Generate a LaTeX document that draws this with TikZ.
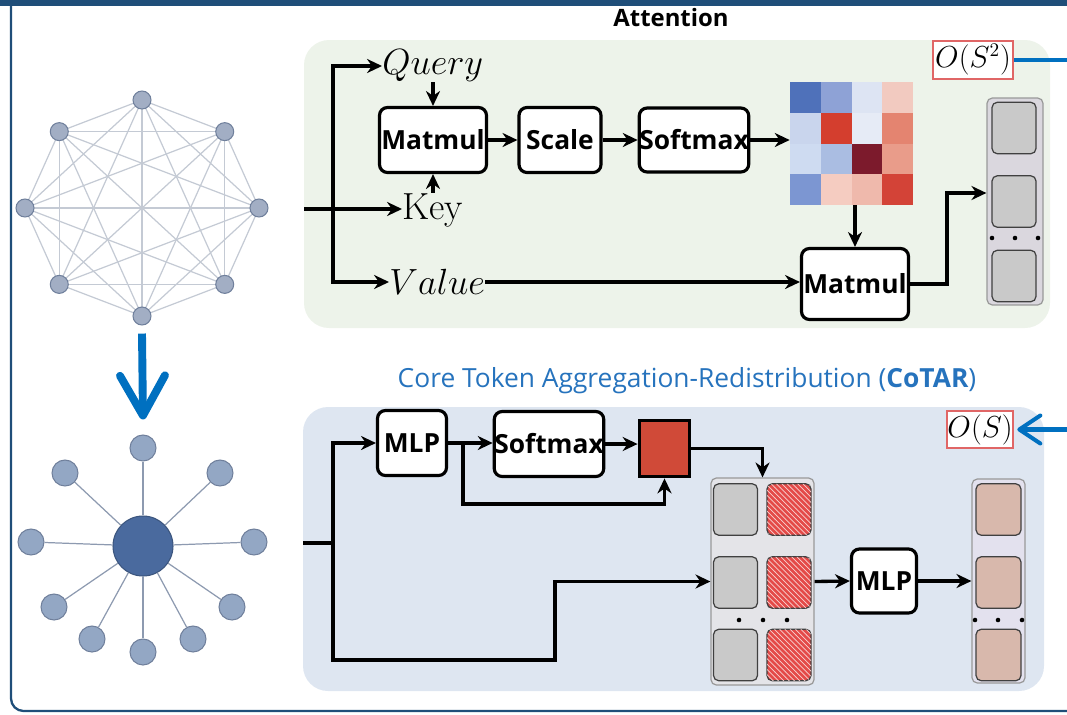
\documentclass[tikz,border=0pt]{standalone}
\usepackage{fontspec}
\newfontfamily\opfont{Open Sans}
\usetikzlibrary{arrows.meta,patterns,backgrounds}

\definecolor{framecol}{RGB}{31,78,121}
\definecolor{attbg}{RGB}{237,243,234}
\definecolor{cotarbg}{RGB}{222,230,241}
\definecolor{arrowblue}{RGB}{0,112,192}
\definecolor{titleblue}{RGB}{38,115,189}
\definecolor{nodefill}{RGB}{162,174,196}
\definecolor{nodeline}{RGB}{112,128,156}
\definecolor{edgecol}{RGB}{196,202,212}
\definecolor{starfill}{RGB}{147,167,196}
\definecolor{corefill}{RGB}{74,106,158}
\definecolor{costred}{RGB}{224,102,102}
\definecolor{tokgray}{RGB}{201,201,201}
\definecolor{tokred}{RGB}{228,74,72}
\definecolor{tokpink}{RGB}{216,184,172}
\definecolor{colgray}{RGB}{218,215,222}
\definecolor{colpale}{RGB}{228,228,232}
\definecolor{collav}{RGB}{227,225,238}
\definecolor{corered}{RGB}{208,74,56}

\tikzset{
  opbox/.style={draw, line width=1.8pt, rounded corners=4.5pt, fill=white,
    font=\opfont\bfseries\fontsize{15}{17}\selectfont, inner sep=0pt},
  arr/.style={line width=1.9pt, -{Stealth[length=8.5pt,width=8pt]}},
  link/.style={line width=1.9pt},
  mathlabel/.style={font=\fontsize{21.5}{24}\selectfont, inner sep=0pt},
  costbox/.style={draw=costred, line width=0.9pt, fill=white, inner sep=0pt,
    font=\fontsize{16}{18}\selectfont},
  gnode/.style={circle, draw=nodeline, fill=nodefill, line width=0.6pt,
    minimum size=0.36cm, inner sep=0pt},
  snode/.style={circle, draw=nodeline, fill=starfill, line width=0.6pt,
    minimum size=0.52cm, inner sep=0pt},
  colbox/.style={draw=gray!80, line width=0.7pt, rounded corners=3pt, inner sep=0pt},
  tokbox/.style={draw=black!75, line width=0.7pt, rounded corners=3pt,
    minimum width=0.88cm, minimum height=1.03cm, inner sep=0pt},
  hatched/.style={fill=tokred, postaction={pattern=north west lines, pattern color=white!75!tokred}},
  bluelink/.style={draw=arrowblue, line width=2.3pt},
  barb/.style n args={2}{-{Straight Barb[round, length=#1, width=#2]}},
}

\begin{document}
\begin{tikzpicture}[x=0.02cm, y=-0.02cm]
  \useasboundingbox (0,0) rectangle (1067,714);
  \clip (0,0) rectangle (1067,714);

  % Frame of the slide
  \fill[framecol] (0,0) rectangle (1067,6);
  \draw[framecol, line width=1.3pt, rounded corners=0.25cm] (11,0) -- (11,711) -- (1090,711);

  % Panels
  \fill[attbg, rounded corners=0.5cm] (304,40) rectangle (1050,328);  % Attention
  \fill[cotarbg, rounded corners=0.5cm] (303,407) rectangle (1044,691);  % CoTAR

  % Titles
  \node[font=\opfont\bfseries\fontsize{13.6}{15}\selectfont] (atttitle) at (671,18) {Attention};
  \node[font=\opfont\fontsize{15}{17}\selectfont, text=titleblue] (cottitle) at (687,381)
    {Core Token Aggregation-Redistribution (\textbf{CoTAR})};

  % Fully connected graph (8 tokens)
  \foreach \i in {0,...,7}
    \node[gnode] (g\i) at ({142+117*cos(90-45*\i)}, {208-108*sin(90-45*\i)}) {};
  \begin{pgfonlayer}{background}
    \foreach \i in {0,...,7}
      \foreach \j in {0,...,7}
        {\ifnum\j>\i \draw[edgecol, line width=0.7pt] (g\i.center) -- (g\j.center);\fi}
  \end{pgfonlayer}

  % Star graph with one core token
  \node[circle, draw=corefill!80!black, fill=corefill, line width=0.6pt,
    minimum size=1.2cm, inner sep=0pt] (core) at (143,546) {};
  \foreach \x/\y [count=\k] in {143/448,65/473,220/473,31/542,254/542,
                                54/607,232/607,92/639,193/639,143/652} {
    \node[snode] (s\k) at (\x,\y) {};
    \draw[nodeline!80, line width=0.7pt] (core) -- (s\k);
  }

  % Big arrow between the graphs
  \draw[arrowblue, line width=4.5pt, barb={0.8cm}{0.9cm}]
    ([yshift=-0.16cm]g4.south) -- ([yshift=0.3cm]s1.north);

  % ---------------- Attention ----------------
  \coordinate (attin) at (304,209);
  \coordinate (attsplit) at (333,209);
  \node[mathlabel, anchor=west] (query) at (382,66) {$Query$};
  \node[mathlabel, anchor=west] (key) at (402,210) {Key};
  \node[mathlabel, anchor=west] (value) at (389,282) {$Value$};

  \node[opbox, minimum width=2.14cm, minimum height=1.3cm] (mm1) at (433,140) {Matmul};
  \node[opbox, minimum width=1.64cm, minimum height=1.3cm] (scale) at (560,140) {Scale};
  \node[opbox, minimum width=2.18cm, minimum height=1.28cm] (sm1) at (694,140) {Softmax};
  \node[opbox, minimum width=2.14cm, minimum height=1.42cm] (mm2) at (855,284) {Matmul};

  % Attention map
  \foreach \c [count=\k from 0] in {4F71BA,8EA2D6,DDE4F3,F2CAC0,C9D5ED,D43E2E,E6EBF6,E48470,CEDBF1,AABDE2,7C1A2C,E99C8A,7C96D2,F5CCC1,EFB9AC,D34337} {
    \pgfmathtruncatemacro\row{floor(\k/4)}
    \pgfmathtruncatemacro\col{mod(\k,4)}
    \definecolor{cellcol}{HTML}{\c}
    \fill[cellcol] ({790+\col*30.75},{82+\row*30.75}) rectangle ++(30.75,30.75);
  }
  \node[minimum size=2.46cm, inner sep=0pt] (heat) at (851.5,143.5) {};

  % Output tokens
  \node[colbox, fill=colgray, minimum width=1.12cm, minimum height=4.14cm] (attout) at (1015,201.5) {};
  \foreach \y in {128,201.5,276}
    \node[tokbox, fill=tokgray] at (1014,\y) {};
  \foreach \x in {992,1015,1038}
    \fill (\x,238) circle (1.3pt);

  \node[costbox, minimum width=1.6cm, minimum height=0.76cm] (cost2) at (973,60) {$O(S^2)$};
  \draw[bluelink] (cost2.east) -- ++(80,0);

  % Connectors
  \draw[link] (attin) -- (attsplit);
  \draw[arr] (attsplit) -- (attsplit -| key.west);
  \draw[arr] (attsplit) |- (query.west);
  \draw[arr] (attsplit) |- (value.west);
  \draw[arr] (mm1.north |- query.south) -- (mm1.north);
  \draw[arr] (mm1.south |- key.north) -- (mm1.south);
  \draw[arr] (mm1) -- (scale);
  \draw[arr] (scale) -- (sm1);
  \draw[arr] (sm1.east) -- (sm1.east -| heat.west);
  \draw[arr] (heat.south -| mm2.north) -- (mm2.north);
  \draw[arr] (value.east) -- (value.east -| mm2.west);
  \draw[arr] (mm2.east) -- (947,284) |- (attout.west |- 0,193);

  % ---------------- CoTAR ----------------
  \coordinate (cotin) at (303,543);
  \coordinate (cotsplit) at (333,543);
  \coordinate (mlpbranch) at (463,443);

  \node[opbox, minimum width=1.38cm, minimum height=1.3cm] (mlp1) at (412,443) {MLP};
  \node[opbox, minimum width=2.1cm, minimum height=1.3cm] (sm2) at (549,444) {Softmax};
  \node[draw, line width=2.2pt, fill=corered, minimum width=1.0cm, minimum height=1.12cm,
    inner sep=0pt] (redsq) at (664.5,448.5) {};
  \node[opbox, minimum width=1.3cm, minimum height=1.28cm] (mlp2) at (884,581) {MLP};

  % Concatenated tokens
  \node[colbox, fill=colpale, minimum width=2.06cm, minimum height=4.14cm] (midcol) at (762.5,581.5) {};
  \foreach \y in {509.5,582.5,655} {
    \node[tokbox, fill=tokgray] at (735.5,\y) {};
    \node[tokbox, hatched] at (789,\y) {};
  }
  \foreach \x in {739,763,787}
    \fill (\x,620) circle (1.3pt);

  % Redistributed tokens
  \node[colbox, fill=collav, minimum width=1.06cm, minimum height=4.08cm] (outcol) at (998.5,581) {};
  \foreach \y in {509.5,582.5,655}
    \node[tokbox, fill=tokpink, minimum width=0.9cm] at (998.5,\y) {};
  \foreach \x in {975,998,1022}
    \fill (\x,620) circle (1.3pt);

  \node[costbox, minimum width=1.32cm, minimum height=0.74cm] (cost1) at (980,429.5) {$O(S)$};
  \draw[bluelink, barb={0.42cm}{0.56cm}] (cost1.east) ++(80,0) -- ([xshift=2pt]cost1.east);

  % Connectors
  \draw[link] (cotin) -- (cotsplit);
  \draw[arr] (cotsplit) |- (mlp1.west);
  \draw[arr] (cotsplit) |- (555,660) |- (midcol.west);
  \draw[arr] (mlp1.east) -- (mlp1.east -| sm2.west);
  \draw[arr] (mlpbranch) -- (463,504) -| (redsq.south);
  \draw[arr] (sm2.east) -- (sm2.east -| redsq.west);
  \draw[arr] (redsq.east) -| (midcol.north);
  \draw[arr] (midcol.east) -- (mlp2.west);
  \draw[arr] (mlp2.east) -- (outcol.west);
\end{tikzpicture}
\end{document}
